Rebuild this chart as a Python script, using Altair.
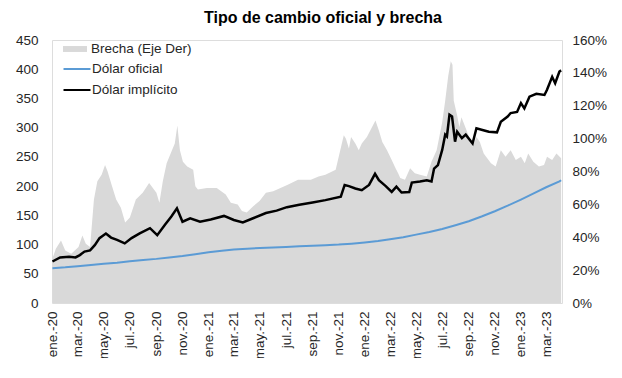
import altair as alt
import pandas as pd

FONT = "Liberation Sans"
TXT = "#262626"

titulo = "Tipo de cambio oficial y brecha"
brecha_nombre = "Brecha (Eje Der)"
series_nombres = ["Dólar oficial", "Dólar implícito"]
series_colores = ["#5B9BD5", "#000000"]
meses = ["ene.", "feb.", "mar.", "abr.", "may.", "jun.", "jul.", "ago.", "sep.", "oct.", "nov.", "dic."]

oficial_fechas = [
    "2020-01-02", "2020-02-01", "2020-03-01", "2020-04-01", "2020-05-01", "2020-06-01",
    "2020-07-01", "2020-08-01", "2020-09-01", "2020-10-01", "2020-11-01", "2020-12-01",
    "2021-01-01", "2021-02-01", "2021-03-01", "2021-04-01", "2021-05-01", "2021-06-01",
    "2021-07-01", "2021-08-01", "2021-09-01", "2021-10-01", "2021-11-01", "2021-12-01",
    "2022-01-01", "2022-02-01", "2022-03-01", "2022-04-01", "2022-05-01", "2022-06-01",
    "2022-07-01", "2022-08-01", "2022-09-01", "2022-10-01", "2022-11-01", "2022-12-01",
    "2023-01-01", "2023-02-01", "2023-03-01", "2023-04-01", "2023-04-05",
]
oficial_valores = [
    59.5, 61, 63, 65, 67, 69, 71.5, 73.5, 75.5, 78, 80.5, 83.5,
    87, 89.5, 91.5, 93, 94, 95, 96, 97, 98, 99, 100, 101.5,
    103.5, 106, 109, 112.5, 117, 121.5, 126.5, 133, 140, 148, 157, 166.5,
    177, 188, 198, 208, 210,
]

implicito_fechas = [
    "2020-01-02", "2020-01-20", "2020-02-10", "2020-02-25", "2020-03-06", "2020-03-17",
    "2020-03-30", "2020-04-10", "2020-04-21", "2020-05-06", "2020-05-18", "2020-06-01",
    "2020-06-19", "2020-07-05", "2020-07-24", "2020-08-17", "2020-09-03", "2020-09-21",
    "2020-10-06", "2020-10-19", "2020-11-01", "2020-11-19", "2020-12-12", "2021-01-06",
    "2021-02-06", "2021-03-01", "2021-03-22", "2021-04-15", "2021-05-15", "2021-06-09",
    "2021-07-03", "2021-08-01", "2021-09-01", "2021-10-01", "2021-11-06", "2021-11-15",
    "2021-11-25", "2021-12-10", "2021-12-25", "2022-01-11", "2022-01-25", "2022-02-03",
    "2022-02-19", "2022-03-05", "2022-03-16", "2022-03-28", "2022-04-15", "2022-04-21",
    "2022-05-10", "2022-05-26", "2022-06-06", "2022-06-12", "2022-06-21", "2022-07-01",
    "2022-07-08", "2022-07-12", "2022-07-18", "2022-07-24", "2022-07-31", "2022-08-05",
    "2022-08-16", "2022-08-25", "2022-09-10", "2022-09-19", "2022-10-03", "2022-10-18",
    "2022-11-06", "2022-11-15", "2022-12-01", "2022-12-08", "2022-12-23", "2023-01-01",
    "2023-01-09", "2023-01-21", "2023-02-06", "2023-02-25", "2023-03-03", "2023-03-15",
    "2023-03-22", "2023-04-01", "2023-04-05",
]
implicito_valores = [
    71, 78, 79, 78, 82, 88,
    90, 99, 111, 119, 112, 108,
    102, 111, 119, 128, 116, 134,
    148, 162, 139, 145, 139, 143,
    149, 142, 138, 145, 154, 158,
    164, 168, 172, 176, 182, 202,
    200, 196, 193, 202, 221, 210,
    200, 190, 199, 189, 190, 206,
    208, 210, 208, 230, 236, 262,
    288, 285, 322, 319, 276, 293,
    282, 288, 273, 299, 296, 293,
    292, 310, 319, 325, 327, 342,
    333, 353, 358, 356, 365, 387,
    376, 396, 398,
]

brecha_fechas = [
    "2020-01-02", "2020-01-10", "2020-01-22", "2020-02-01", "2020-02-15", "2020-03-03",
    "2020-03-12", "2020-03-20", "2020-03-30", "2020-04-08", "2020-04-16", "2020-04-26",
    "2020-05-04", "2020-05-10", "2020-05-18", "2020-05-30", "2020-06-10", "2020-06-20",
    "2020-07-01", "2020-07-15", "2020-07-31", "2020-08-15", "2020-09-01", "2020-09-08",
    "2020-09-16", "2020-09-25", "2020-10-06", "2020-10-14", "2020-10-20", "2020-10-26",
    "2020-11-02", "2020-11-12", "2020-11-26", "2020-12-01", "2020-12-07", "2020-12-28",
    "2021-01-20", "2021-02-10", "2021-02-22", "2021-03-10", "2021-03-20", "2021-03-31",
    "2021-04-16", "2021-04-30", "2021-05-15", "2021-06-01", "2021-06-18", "2021-07-05",
    "2021-07-29", "2021-08-28", "2021-09-15", "2021-10-01", "2021-10-25", "2021-11-13",
    "2021-11-18", "2021-11-25", "2021-11-30", "2021-12-10", "2021-12-18", "2021-12-25",
    "2022-01-06", "2022-01-26", "2022-02-03", "2022-02-11", "2022-02-22", "2022-03-05",
    "2022-03-14", "2022-03-20", "2022-03-25", "2022-04-05", "2022-04-17", "2022-04-28",
    "2022-05-10", "2022-05-26", "2022-06-06", "2022-06-18", "2022-07-01", "2022-07-08",
    "2022-07-15", "2022-07-21", "2022-07-25", "2022-07-28", "2022-08-05", "2022-08-10",
    "2022-08-15", "2022-08-30", "2022-09-10", "2022-09-19", "2022-09-27", "2022-10-06",
    "2022-10-23", "2022-11-03", "2022-11-15", "2022-11-26", "2022-12-08", "2022-12-20",
    "2023-01-01", "2023-01-10", "2023-01-18", "2023-01-30", "2023-02-12", "2023-02-24",
    "2023-03-03", "2023-03-15", "2023-03-25", "2023-04-05",
]
brecha_valores = [
    27, 33, 38, 32, 30, 34,
    41, 36, 34, 63, 74, 78,
    84, 80, 73, 63, 58, 49,
    52, 63, 67, 73, 67, 61,
    74, 85, 92, 97, 108, 93,
    86, 83, 81, 71, 69, 70,
    70, 66, 61, 60, 56, 55,
    59, 62, 67, 68, 70, 72,
    75, 75, 77, 78, 81, 102,
    100, 94, 101, 97, 93, 97,
    101, 111, 105, 98, 93, 87,
    82, 79, 76, 75, 82, 79,
    78, 77, 86, 93, 110, 123,
    138, 147, 145, 123, 114, 107,
    113, 103, 95, 101, 98, 91,
    85, 83, 93, 89, 93, 87,
    89, 85, 91, 86, 83, 84,
    89, 87, 91, 88,
]

df_brecha = pd.DataFrame({
    "fecha": brecha_fechas,
    "brecha": [v / 100 for v in brecha_valores],
    "serie": brecha_nombre,
})
df_lineas = pd.concat([
    pd.DataFrame({"fecha": oficial_fechas, "valor": oficial_valores, "serie": series_nombres[0]}),
    pd.DataFrame({"fecha": implicito_fechas, "valor": implicito_valores, "serie": series_nombres[1]}),
], ignore_index=True)

ticks_x = []
for y in (2020, 2021, 2022, 2023):
    for m in (1, 3, 5, 7, 9, 11):
        if y == 2023 and m > 3:
            continue
        ticks_x.append(alt.DateTime(year=y, month=m, date=1, utc=True))

x_dom = [alt.DateTime(year=2020, month=1, date=1, utc=True),
         alt.DateTime(year=2023, month=4, date=7, utc=True)]

mes_expr = "[" + ",".join("'%s'" % m for m in meses) + "]"
x_enc = alt.X(
    "fecha:T",
    scale=alt.Scale(type="utc", domain=x_dom, nice=False),
    axis=alt.Axis(
        values=ticks_x, labelExpr=mes_expr + "[utcmonth(datum.value)] + '-' + utcFormat(datum.value, '%y')",
        labelAngle=270, labelAlign="right", labelBaseline="middle", labelPadding=8,
        labelFont=FONT, labelFontSize=13.5, labelColor=TXT, ticks=False, domain=False,
        grid=False, title=None, labelOverlap=False, labelBound=False, labelFlush=False,
    ),
)

area = alt.Chart(df_brecha).mark_area(interpolate="linear").encode(
    x=x_enc,
    y=alt.Y(
        "brecha:Q",
        scale=alt.Scale(domain=[0, 1.6], nice=False, zero=True),
        axis=alt.Axis(
            orient="right", format=".0%", values=[0, 0.2, 0.4, 0.6, 0.8, 1.0, 1.2, 1.4, 1.6],
            labelFont=FONT, labelFontSize=13.5, labelColor=TXT, labelPadding=10,
            ticks=False, domain=False, grid=False, title=None,
        ),
    ),
    fill=alt.Fill(
        "serie:N",
        scale=alt.Scale(domain=[brecha_nombre], range=["#D9D9D9"]),
        legend=alt.Legend(
            orient="none", legendX=16, legendY=2, title=None, padding=0,
            symbolType="M-1.78,-0.44H1.78V0.44H-1.78Z", symbolSize=182, symbolStrokeWidth=0,
            labelFont=FONT, labelFontSize=13.5, labelColor=TXT, labelOffset=9,
        ),
    ),
)

lineas = alt.Chart(df_lineas).mark_line(interpolate="linear").encode(
    x=x_enc,
    y=alt.Y(
        "valor:Q",
        scale=alt.Scale(domain=[0, 450], nice=False),
        axis=alt.Axis(
            orient="left", values=list(range(0, 451, 50)),
            labelFont=FONT, labelFontSize=13.5, labelColor=TXT, labelPadding=14,
            ticks=False, domain=False, grid=False, title=None,
        ),
    ),
    stroke=alt.Stroke(
        "serie:N",
        scale=alt.Scale(domain=series_nombres, range=series_colores),
        legend=alt.Legend(
            orient="none", legendX=17, legendY=21, title=None, padding=0,
            symbolType="M-2,0H2", symbolSize=182, symbolStrokeWidth=2,
            labelFont=FONT, labelFontSize=13.5, labelColor=TXT, labelOffset=7, rowPadding=6,
        ),
    ),
    strokeWidth=alt.StrokeWidth(
        "serie:N",
        scale=alt.Scale(domain=series_nombres, range=[2, 2.5]),
        legend=None,
    ),
    order=alt.Order("fecha:T"),
)

chart = alt.layer(area, lineas).resolve_scale(
    y="independent", fill="independent", stroke="independent"
).properties(
    width=510,
    height=263,
    title=alt.TitleParams(titulo, font=FONT, fontSize=16, fontWeight="bold", color="#000000",
                          anchor="middle", frame="group", offset=7, dx=16),
    autosize=alt.AutoSizeParams(type="none"),
    padding={"left": 44, "top": 32, "right": 50, "bottom": 55},
).configure_view(strokeWidth=0).configure(background="#FFFFFF")

chart.save("out.html", embed_options={"renderer": "svg", "actions": False})
